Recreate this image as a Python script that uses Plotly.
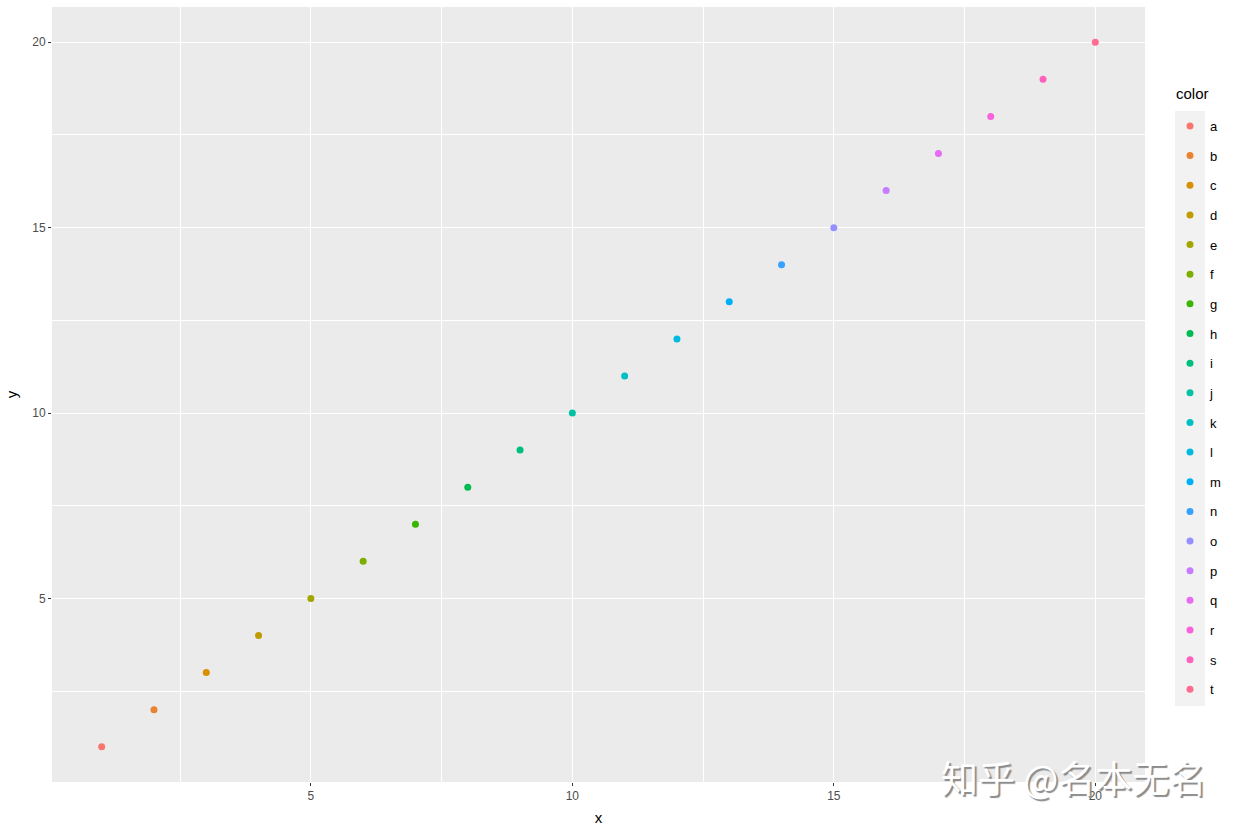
import plotly.graph_objects as go

x_vals = list(range(1, 21))
y_vals = list(range(1, 21))
labels = list("abcdefghijklmnopqrst")
colors = ["#F8766D", "#EA8331", "#D89000", "#C09B00", "#A3A500", "#7CAE00",
          "#39B600", "#00BB4E", "#00BF7D", "#00C1A3", "#00BFC4", "#00BAE0",
          "#00B0F6", "#35A2FF", "#9590FF", "#C77CFF", "#E76BF3", "#FA62DB",
          "#FF62BC", "#FF6C91"]
x_ticks = [5, 10, 15, 20]
y_ticks = [5, 10, 15, 20]

W, H = 1240, 829
L, R, T, B = 52, 1145, 7, 782
pw, ph = R - L, B - T

def px2x(p):
    return (p - L) / pw

def px2y(p):
    return 1 - (p - T) / ph

fig = go.Figure()
for xv, yv, lab, col in zip(x_vals, y_vals, labels, colors):
    fig.add_trace(go.Scatter(
        x=[xv], y=[yv], mode="markers", name=lab, legendgroup=lab,
        marker=dict(color=col, size=7, line=dict(width=0)),
    ))

font = "Liberation Sans, Arial, Helvetica, sans-serif"
axis_common = dict(
    showgrid=True, gridcolor="white", gridwidth=1.4,
    zeroline=False, showline=False, automargin=False,
    ticks="outside", ticklen=3, tickwidth=1, tickcolor="#333333",
    tickfont=dict(size=12, color="#4D4D4D", family=font),
    minor=dict(showgrid=True, gridcolor="white", gridwidth=0.6, ticks="", dtick=2.5, tick0=0),
)

fig.update_layout(
    width=W, height=H,
    margin=dict(l=L, r=W - R, t=T, b=H - B, autoexpand=False),
    paper_bgcolor="white", plot_bgcolor="#EBEBEB",
    font=dict(family=font, color="black"),
    xaxis=dict(range=[0.05, 20.95], tickvals=x_ticks,
               title=dict(text="x", font=dict(size=15), standoff=10),
               **axis_common),
    yaxis=dict(range=[0.05, 20.95], tickvals=y_ticks,
               title=dict(text="y", font=dict(size=15), standoff=10),
               **axis_common),
    legend=dict(
        font=dict(size=13, color="black"),
        x=px2x(1170), xanchor="left", y=px2y(111), yanchor="top",
        bgcolor="rgba(0,0,0,0)", tracegroupgap=9.75, traceorder="grouped",
        itemclick=False,
    ),
    shapes=[dict(type="rect", xref="paper", yref="paper",
                 x0=px2x(1175), x1=px2x(1205), y0=px2y(706), y1=px2y(111),
                 fillcolor="#F2F2F2", line=dict(width=0), layer="below")],
    annotations=[
        dict(text="color", xref="paper", yref="paper",
             x=px2x(1174), y=px2y(93), xanchor="left", yanchor="middle",
             showarrow=False, font=dict(size=15, color="black", family=font)),
        dict(text="知乎 @名本无名", xref="paper", yref="paper",
             x=px2x(1073), y=px2y(777), xanchor="center", yanchor="middle",
             showarrow=False,
             font=dict(size=37, color="white", family="Noto Sans CJK SC",
                       shadow="2px 2px 1px #8a8a8a")),
    ],
)

fig.write_html("out.html", config={"displayModeBar": False},
               post_script="document.body.style.margin='0px';")
